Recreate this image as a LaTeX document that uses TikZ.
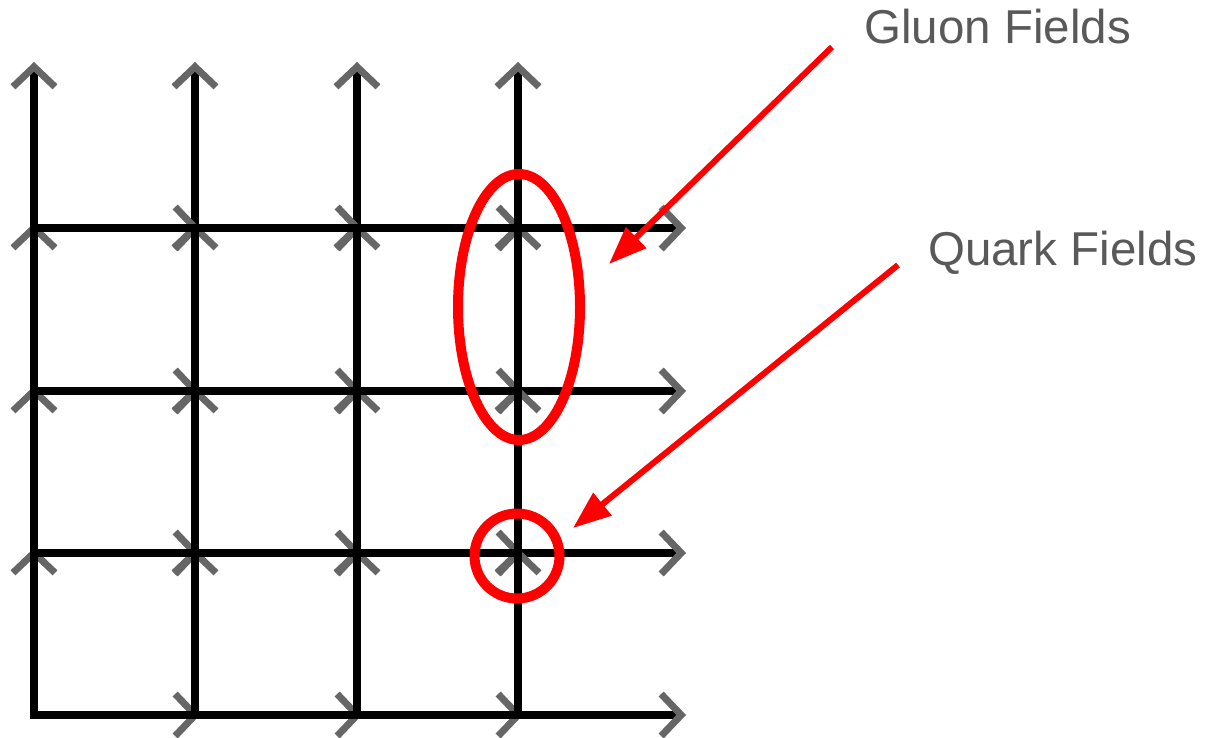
\documentclass[tikz,border=0pt]{standalone}
\usepackage{fontspec}
\setmainfont{Liberation Sans}
\usetikzlibrary{arrows.meta,shapes.geometric}
\definecolor{tipgray}{RGB}{102,102,102}
\definecolor{lblgray}{RGB}{89,89,89}
\tikzset{
  link/.style={line width=7.5pt,shorten >=-5pt,-{Straight Barb[length=20pt,width=42pt,line width=7pt,color=tipgray]}},
  bar/.style={line width=7.5pt,line cap=rect},
  field/.style={draw=red,line width=10pt,inner sep=0pt},
  ptr/.style={draw=red,line width=6pt,-{Triangle[length=38pt,width=28pt]}},
  lbl/.style={text=lblgray,font=\fontsize{47.5}{56}\selectfont,inner sep=0pt,anchor=base west},
}
\begin{document}
\begin{tikzpicture}[x=1pt,y=-1pt]
  \useasboundingbox (0,0) rectangle (1207,737);
  % lattice sites (column i, row j), row 0 at the bottom
  \foreach \i/\x in {0/34,1/195,2/357,3/518,4/681}
    \foreach \j/\y in {0/715,1/553,2/391,3/228,4/67}
      \coordinate (s-\i-\j) at (\x,\y);
  % links with their gray heads
  \foreach \i in {0,...,3}
    \foreach \j in {0,...,3} {
      \pgfmathtruncatemacro\nxt{\j+1}
      \draw[link] (s-\i-\j) -- (s-\i-\nxt);
      \draw[link] (s-\j-\i) -- (s-\nxt-\i);
    }
  % black lines over the heads
  \foreach \i in {0,...,3} {
    \draw[bar] (s-\i-0) -- (s-\i-3);
    \draw[bar] (s-0-\i) -- (s-3-\i);
  }
  % fields
  \node[field,ellipse,minimum width=122pt,minimum height=266pt] (gluon) at (519,307) {};
  \node[field,circle,minimum size=85pt] (quark) at (517,556) {};
  \node[lbl] (gluon-lbl) at (864,43) {Gluon Fields};
  \node[lbl] (quark-lbl) at (928,265) {Quark Fields};
  \coordinate (g-from) at (832,47);
  \coordinate (g-to) at (609,264);
  \coordinate (q-from) at (898,265);
  \coordinate (q-to) at (573,528);
  \draw[ptr] (g-from) -- (g-to);
  \draw[ptr] (q-from) -- (q-to);
\end{tikzpicture}
\end{document}
